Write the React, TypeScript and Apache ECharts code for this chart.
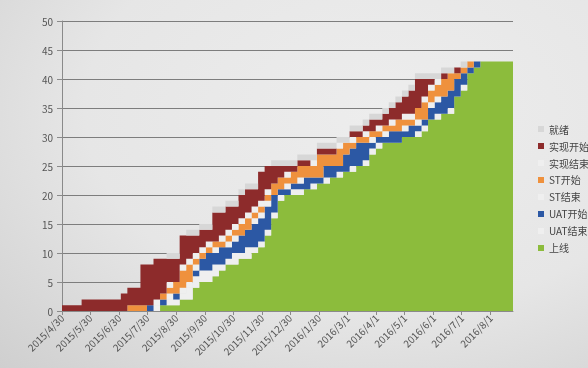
import React, { useEffect, useRef } from "react";
import * as echarts from "echarts";

// weekly sample dates
const dates = [
  "2015-04-30","2015-05-07","2015-05-14","2015-05-21","2015-05-28",
  "2015-06-04","2015-06-11","2015-06-18","2015-06-25","2015-07-02",
  "2015-07-09","2015-07-16","2015-07-23","2015-07-30","2015-08-06",
  "2015-08-13","2015-08-20","2015-08-27","2015-09-03","2015-09-10",
  "2015-09-17","2015-09-24","2015-10-01","2015-10-08","2015-10-15",
  "2015-10-22","2015-10-29","2015-11-05","2015-11-12","2015-11-19",
  "2015-11-26","2015-12-03","2015-12-10","2015-12-17","2015-12-24",
  "2015-12-31","2016-01-07","2016-01-14","2016-01-21","2016-01-28",
  "2016-02-04","2016-02-11","2016-02-18","2016-02-25","2016-03-03",
  "2016-03-10","2016-03-17","2016-03-24","2016-03-31","2016-04-07",
  "2016-04-14","2016-04-21","2016-04-28","2016-05-05","2016-05-12",
  "2016-05-19","2016-05-26","2016-06-02","2016-06-09","2016-06-16",
  "2016-06-23","2016-06-30","2016-07-07","2016-07-14","2016-07-21",
  "2016-07-28","2016-08-04","2016-08-11","2016-08-18","2016-08-25",
];

const xTickLabels = [
  "2015/4/30","2015/5/30","2015/6/30","2015/7/30","2015/8/30","2015/9/30",
  "2015/10/30","2015/11/30","2015/12/30","2016/1/30","2016/3/1","2016/4/1",
  "2016/5/1","2016/6/1","2016/7/1","2016/8/1",
];

const yTicks = [0, 5, 10, 15, 20, 25, 30, 35, 40, 45, 50];

// series values (stack order bottom -> top)
const shangXian = [0,0,0,0,0, 0,0,0,0,0, 0,0,0,0,0, 1,1,1,2,2, 4,5,5,6,7, 8,8,9,9,10, 11,13,16,19,20, 20,20,21,21,22, 22,23,23,24,24, 25,25,27,28,29, 29,29,30,30,30, 31,33,33,34,34, 37,38,41,42,43, 43,43,43,43,43];
const uatJieShu = [0,0,0,0,0, 0,0,0,0,0, 0,0,0,0,1, 0,1,1,1,2, 2,2,2,2,1, 1,2,1,2,1, 1,1,1,1,0, 1,1,0,1,0, 1,0,1,0,1, 0,1,1,1,0, 0,0,0,0,1, 1,0,1,0,1, 0,1,0,0,0, 0,0,0,0,0];
const uatKaiShi = [0,0,0,0,0, 0,0,0,0,0, 0,0,0,1,0, 1,0,1,0,0, 1,2,3,2,3, 2,2,3,3,4, 4,4,3,1,1, 1,1,2,1,1, 2,2,1,3,3, 4,3,1,1,1, 2,2,1,2,1, 1,2,2,3,3, 3,2,1,1,0, 0,0,0,0,0];
const stJieShu = [0,0,0,0,0, 0,0,0,0,0, 0,0,0,0,0, 0,1,0,1,1, 1,0,0,1,0, 1,1,0,0,1, 1,1,0,0,1, 0,1,0,0,0, 0,0,0,0,0, 0,0,1,0,1, 0,0,1,0,1, 0,1,1,0,0, 0,0,0,0,0, 0,0,0,0,0];
const stKaiShi = [0,0,0,0,0, 0,0,0,0,0, 1,1,1,0,0, 1,1,2,3,3, 1,1,1,1,1, 1,1,2,2,1, 1,1,2,2,1, 2,2,2,2,4, 2,2,3,2,1, 1,1,1,1,1, 1,2,1,1,2, 3,2,2,3,3, 1,1,1,0,0, 0,0,0,0,0];
const shiXianJieShu = [0,0,0,0,0, 0,0,0,0,0, 0,0,0,0,1, 0,1,0,1,1, 1,1,1,0,1, 1,1,1,1,1, 1,1,0,0,1, 0,0,0,1,0, 0,0,1,0,1, 0,1,0,1,0, 1,0,1,1,0, 1,1,1,0,0, 0,0,0,0,0, 0,0,0,0,0];
const shiXianKaiShi = [1,1,1,2,2, 2,2,2,2,3, 3,3,7,7,7, 6,4,4,5,4, 3,3,2,5,4, 4,3,4,4,3, 5,4,3,2,1, 1,1,1,0,1, 1,1,0,0,1, 1,1,2,1,2, 2,3,3,4,5, 3,1,0,1,0, 1,0,0,0,0, 0,0,0,0,0];
const jiuXu = [0,0,0,0,0, 0,0,0,0,0, 0,0,0,0,0, 0,1,1,0,1, 1,1,1,1,1, 1,1,1,1,1, 0,0,1,1,1, 1,1,1,1,1, 1,1,1,1,1, 1,1,1,1,1, 1,1,1,1,1, 1,1,1,1,1, 0,1,0,0,0, 0,0,0,0,0];

const legendOrder = ["就绪", "实现开始", "实现结束", "ST开始", "ST结束", "UAT开始", "UAT结束", "上线"];

const stackSeries = [
  { name: "上线", values: shangXian, color: "#8cbc3c" },
  { name: "UAT结束", values: uatJieShu, color: "#efefef" },
  { name: "UAT开始", values: uatKaiShi, color: "#2c58a4" },
  { name: "ST结束", values: stJieShu, color: "#efefef" },
  { name: "ST开始", values: stKaiShi, color: "#ef913d" },
  { name: "实现结束", values: shiXianJieShu, color: "#efefef" },
  { name: "实现开始", values: shiXianKaiShi, color: "#8d2b2b" },
  { name: "就绪", values: jiuXu, color: "#d7d7d7" },
];

function isoToTime(s: string): number {
  const [y, m, d] = s.split("-").map(Number);
  return Date.UTC(y, m - 1, d);
}
function slashToTime(s: string): number {
  const [y, m, d] = s.split("/").map(Number);
  return Date.UTC(y, m - 1, d);
}

const FONT = "'Noto Sans CJK SC', 'Noto Sans', sans-serif";

export default function App() {
  const ref = useRef<HTMLDivElement>(null);

  useEffect(() => {
    if (!ref.current) return;
    const chart = echarts.init(ref.current, undefined, { renderer: "svg" });
    const times = dates.map(isoToTime);
    const tickTimes = xTickLabels.map(slashToTime);

    const option: any = {
      animation: false,
      backgroundColor: "transparent",
      textStyle: { fontFamily: FONT },
      grid: { left: 62, right: 75, top: 21, bottom: 57, containLabel: false },
      legend: {
        orient: "vertical",
        left: 533,
        top: 119,
        icon: "rect",
        itemWidth: 6,
        itemHeight: 6,
        itemGap: 7,
        selectedMode: false,
        data: legendOrder,
        textStyle: { fontSize: 10, color: "#444", fontFamily: FONT },
      },
      xAxis: [
        {
          type: "category",
          data: dates,
          boundaryGap: false,
          show: false,
        },
        {
          type: "value",
          position: "bottom",
          min: times[0],
          max: times[times.length - 1],
          splitLine: { show: false },
          axisLine: { show: true, lineStyle: { color: "#8a8a8a", width: 1 } },
          axisTick: { show: true, customValues: tickTimes, length: 4, lineStyle: { color: "#8a8a8a" } },
          axisLabel: {
            customValues: tickTimes,
            rotate: 45,
            fontSize: 10,
            color: "#555",
            margin: 5,
            fontFamily: FONT,
            formatter: (v: number) => {
              const i = tickTimes.findIndex((t) => Math.abs(t - v) < 1000);
              return i >= 0 ? xTickLabels[i] : "";
            },
          },
        },
      ],
      yAxis: {
        type: "value",
        min: yTicks[0],
        max: yTicks[yTicks.length - 1],
        interval: 5,
        axisLine: { show: true, lineStyle: { color: "#8a8a8a", width: 1 } },
        axisTick: { show: true, length: 5, lineStyle: { color: "#8a8a8a" } },
        axisLabel: { fontSize: 10, color: "#555", margin: 9, fontFamily: FONT },
        splitLine: { show: true, lineStyle: { color: "#7d7d7d", width: 1 } },
      },
      series: stackSeries.map((s) => ({
        name: s.name,
        type: "line",
        xAxisIndex: 0,
        stack: "total",
        step: "end",
        symbol: "none",
        showSymbol: false,
        lineStyle: { width: 0, color: s.color },
        itemStyle: { color: s.color },
        areaStyle: { color: s.color, opacity: 1 },
        data: s.values,
      })),
    };
    chart.setOption(option);
    return () => chart.dispose();
  }, []);

  return (
    <div
      style={{
        position: "fixed",
        left: 0,
        top: 0,
        width: 588,
        height: 368,
        background: "radial-gradient(ellipse at 65% 30%, #ededed 0%, #e6e6e6 55%, #cfcfcf 100%)",
      }}
    >
      <div ref={ref} style={{ width: 588, height: 368 }} />
    </div>
  );
}
